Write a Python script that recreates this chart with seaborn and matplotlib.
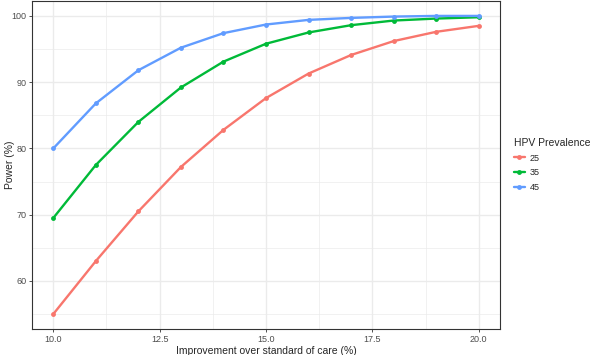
import matplotlib
matplotlib.use("Agg")
import matplotlib.pyplot as plt
import numpy as np
import pandas as pd
import seaborn as sns
from matplotlib.ticker import MultipleLocator

improvement = [10, 11, 12, 13, 14, 15, 16, 17, 18, 19, 20]
power_25 = [55.0, 63.0, 70.5, 77.2, 82.8, 87.6, 91.3, 94.1, 96.2, 97.6, 98.5]
power_35 = [69.5, 77.5, 84.0, 89.2, 93.1, 95.8, 97.5, 98.6, 99.3, 99.6, 99.8]
power_45 = [80.0, 86.8, 91.8, 95.2, 97.4, 98.7, 99.4, 99.7, 99.9, 100.0, 100.0]
prevalence = ["25", "35", "45"]
colors = ["#F8766D", "#00BA38", "#619CFF"]

df = pd.DataFrame({
    "improvement": improvement * 3,
    "power": power_25 + power_35 + power_45,
    "prev": np.repeat(prevalence, len(improvement)),
})

sns.set_theme(style="white")
plt.rcParams["font.family"] = ["Liberation Sans", "DejaVu Sans"]

fig = plt.figure(figsize=(5.96, 3.55), dpi=100)
ax = fig.add_axes([32 / 596, 1 - 329 / 355, 468 / 596, 328 / 355])

sns.lineplot(data=df, x="improvement", y="power", hue="prev",
             palette=dict(zip(prevalence, colors)), marker="o",
             markersize=3.5, markeredgewidth=0, linewidth=1.7, ax=ax)

ax.set_xlim(9.5, 20.5)
ax.set_ylim(52.75, 102.25)
ax.xaxis.set_major_locator(MultipleLocator(2.5))
ax.xaxis.set_minor_locator(MultipleLocator(1.25))
ax.yaxis.set_major_locator(MultipleLocator(10))
ax.yaxis.set_minor_locator(MultipleLocator(5))
ax.xaxis.set_major_formatter(matplotlib.ticker.FormatStrFormatter("%.1f"))
ax.grid(which="major", color="#EBEBEB", linewidth=1.0)
ax.grid(which="minor", color="#EBEBEB", linewidth=0.5)
ax.set_axisbelow(True)
for s in ax.spines.values():
    s.set_color("#333333")
    s.set_linewidth(0.8)
ax.tick_params(which="major", length=2.5, width=0.6, color="#333333",
               labelsize=6.5, labelcolor="#4D4D4D", pad=1.5, bottom=True, left=True)
ax.tick_params(which="minor", length=0)
ax.set_xlabel("Improvement over standard of care (%)", fontsize=7.5, labelpad=2)
ax.set_ylabel("Power (%)", fontsize=7.5)
ax.yaxis.set_label_coords(-0.037, 0.5)

handles, labels = ax.get_legend_handles_labels()
leg = ax.legend(handles, labels, title="HPV Prevalence", loc="center left",
                bbox_to_anchor=(1.0, 0.5), frameon=False, fontsize=6.5,
                title_fontsize=7.5, handlelength=1.3, handletextpad=0.5,
                labelspacing=0.65, borderaxespad=1.1)
leg._legend_box.align = "left"

fig.savefig("out.png", dpi=100)
